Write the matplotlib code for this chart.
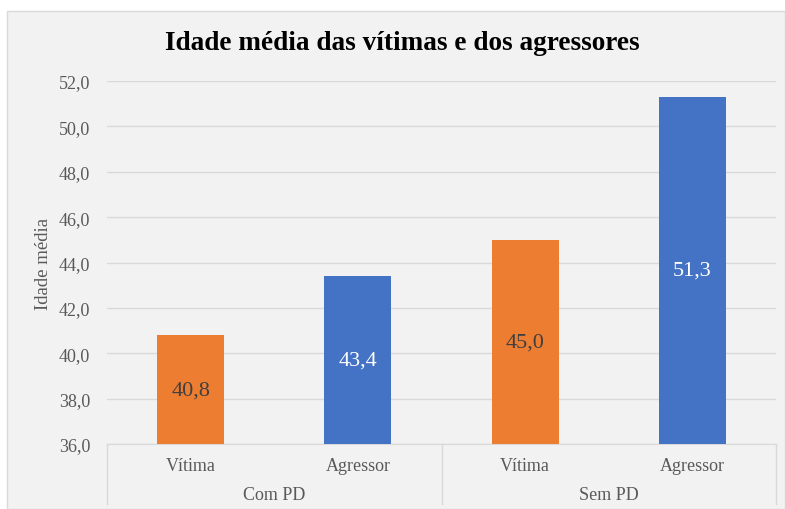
import matplotlib
matplotlib.use("Agg")
import matplotlib.pyplot as plt
from matplotlib.patches import Rectangle
from matplotlib.lines import Line2D

groups = ["Com PD", "Sem PD"]
subcats = ["Vítima", "Agressor"]
values = [40.8, 43.4, 45.0, 51.3]
bar_colors = ["#ED7D31", "#4472C4", "#ED7D31", "#4472C4"]
label_colors = ["#404040", "#FFFFFF", "#404040", "#FFFFFF"]
yticks = [36, 38, 40, 42, 44, 46, 48, 50, 52]
title = "Idade média das vítimas e dos agressores"
ylabel = "Idade média"

plt.rcParams['font.family'] = ['Liberation Serif', 'DejaVu Serif']
W, H = 785, 510
fig = plt.figure(figsize=(W/100, H/100), dpi=100)
fig.patch.set_facecolor("white")
bg = Rectangle((7/W, 0), 1 - 7/W, 1 - 12/H, transform=fig.transFigure,
               facecolor="#F2F2F2", edgecolor="#D9D9D9", linewidth=1.0, zorder=-5)
fig.patches.append(bg)

L, R, T, B = 107, 776, 82, 445
ax = fig.add_axes([L/W, 1 - B/H, (R-L)/W, (B-T)/H])
ax.set_zorder(2)
ax.set_facecolor("none")
x = list(range(len(values)))
bars = ax.bar(x, [v - 36 for v in values], bottom=36, width=0.4, color=bar_colors, zorder=3)
for xi, v, c in zip(x, values, label_colors):
    ax.text(xi, (36 + v) / 2, f"{v:.1f}".replace(".", ","), ha="center", va="center",
            fontsize=16, color=c, zorder=4)

ax.set_xlim(-0.5, 3.5)
ax.set_ylim(36, 52)
ax.set_yticks(yticks)
ax.set_yticklabels([f"{t:.1f}".replace(".", ",") for t in yticks], fontsize=13, color="#595959")
ax.tick_params(axis="y", length=0, pad=12)
ax.set_xticks([])
ax.grid(axis="y", color="#D9D9D9", linewidth=1.0, zorder=0)
ax.set_axisbelow(True)
for s in ["top", "right", "left"]:
    ax.spines[s].set_visible(False)
ax.spines["bottom"].set_color("#D9D9D9")
ax.set_ylabel(ylabel, fontsize=13.5, color="#595959", labelpad=5)

# multi-level category axis
trans = ax.get_xaxis_transform()
for xi in [-0.5, 1.5, 3.5]:
    ax.add_line(Line2D([xi, xi], [0, -60/(B-T)], transform=trans, color="#D9D9D9",
                       linewidth=1.0, clip_on=False))
for xi in x:
    ax.text(xi, -22/(B-T), subcats[xi % 2], transform=trans, ha="center", va="center",
            fontsize=13, color="#595959")
for gi, g in enumerate(groups):
    ax.text(gi * 2 + 0.5, -51/(B-T), g, transform=trans, ha="center", va="center",
            fontsize=13, color="#595959")

fig.text(402/W, 1 - 43/H, title, ha="center", va="center", fontsize=19.6,
         fontweight="bold", color="black")

fig.savefig("out.png", dpi=100)
